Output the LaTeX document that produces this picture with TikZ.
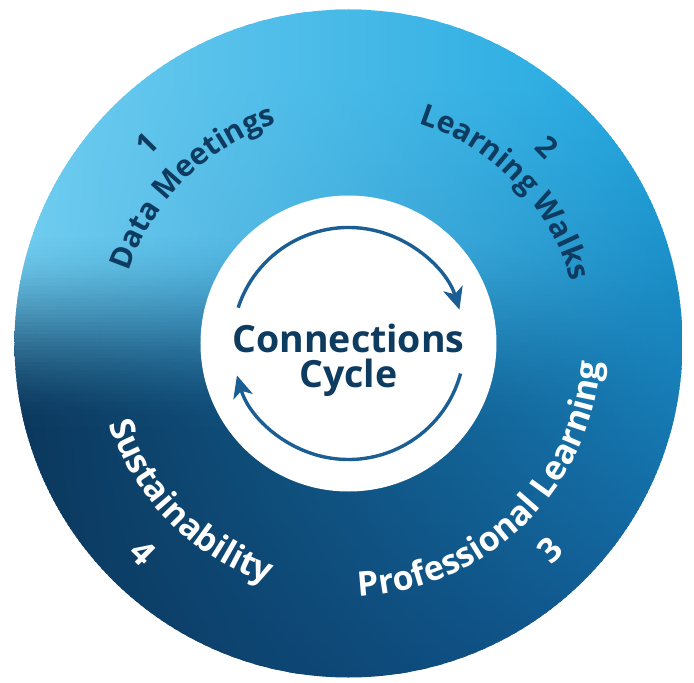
\documentclass[tikz,border=0pt]{standalone}
\usepackage{fontspec}
\setmainfont{Open Sans}
\usetikzlibrary{arrows.meta, decorations.text}

\definecolor{ringLightL}{HTML}{70CDF0}
\definecolor{ringDarkL}{HTML}{0B375C}
\definecolor{ringLightR}{HTML}{1EA6DF}
\definecolor{ringDarkR}{HTML}{105892}
\definecolor{navyText}{HTML}{0E3B60}
\definecolor{arrowBlue}{HTML}{1B5E93}

\newcommand\toplabelfont{\fontsize{30}{36}\selectfont\bfseries}
\newcommand\botlabelfont{\fontsize{34}{40}\selectfont\bfseries}

\begin{document}
\begin{tikzpicture}[
    x=1pt, y=1pt,
    centertext/.style={font=\fontsize{37.5}{44}\selectfont\bfseries, text=navyText, inner sep=0pt},
    topnum/.style={font=\toplabelfont, text=navyText, inner sep=0pt},
    botnum/.style={font=\botlabelfont, text=white, inner sep=0pt},
    cyclearrow/.style={draw=arrowBlue, line width=3.4pt, -{Stealth[length=22pt, width=20pt, inset=6pt]}}
]

\useasboundingbox (-348.5,-339.5) rectangle (345.5,343.5);

% Ring: gradient strips clipped to the outer disk
\begin{scope}
    \clip (0,0) circle[radius=334];
    \foreach \i in {0,...,167} {
        \pgfmathsetmacro\ypos{-334+4*\i}
        \pgfmathsetmacro\vpos{(\ypos+2)/334}
        \pgfmathsetmacro\tmix{max(0,min(1,(0.05-\vpos)/0.6+0.5))}
        \pgfmathtruncatemacro\pctL{100*\tmix*\tmix*(3-2*\tmix)}
        \pgfmathtruncatemacro\pctR{100*max(0,min(1,(0.8-\vpos)/1.8))}
        \colorlet{stripL}{ringDarkL!\pctL!ringLightL}
        \colorlet{stripR}{ringDarkR!\pctR!ringLightR}
        \shade[left color=stripL, right color=stripR] (-334,\ypos) rectangle (334,\ypos+4.8);
    }
\end{scope}

% Hub
\node[circle, fill=white, minimum size=296pt, inner sep=0pt] (hub) at (0,0) {};
\node[centertext, anchor=base] (conn) at (0,-8.5) {Connections};
\node[centertext, anchor=base] (cyc) at (0,-43.5) {Cycle};

% Cycle arrows
\coordinate (upStart) at (162:116);
\coordinate (lowStart) at (-15:116);
\draw[cyclearrow] (upStart) arc[start angle=162, end angle=17, radius=116];
\draw[cyclearrow] (lowStart) arc[start angle=-15, end angle=-164, radius=116];

% Ring labels
\path[decorate, decoration={text along path, text align=center, text color=navyText,
    text={|\toplabelfont|Data Meetings}}] (195:231) arc[start angle=195, end angle=75, radius=231];
\path[decorate, decoration={text along path, text align=center, text color=navyText,
    text={|\toplabelfont|Learning Walks}}] (104:231) arc[start angle=104, end angle=-16, radius=231];
\path[decorate, decoration={text along path, text align=center, text color=white,
    text={|\botlabelfont|Professional Learning}}] (-116:253) arc[start angle=-116, end angle=24, radius=253];
\path[decorate, decoration={text along path, text align=center, text color=white,
    text={|\botlabelfont|Sustainability}}] (155:253) arc[start angle=155, end angle=295, radius=253];

% Step numbers
\node[topnum, rotate=45.3] (n1) at (135.3:283.5) {1};
\node[topnum, rotate=-45.3] (n2) at (44.7:279) {2};
\node[botnum, rotate=44.3] (n3) at (-45.7:288.5) {3};
\node[botnum, rotate=-44.5] (n4) at (225.5:293) {4};

\end{tikzpicture}
\end{document}
